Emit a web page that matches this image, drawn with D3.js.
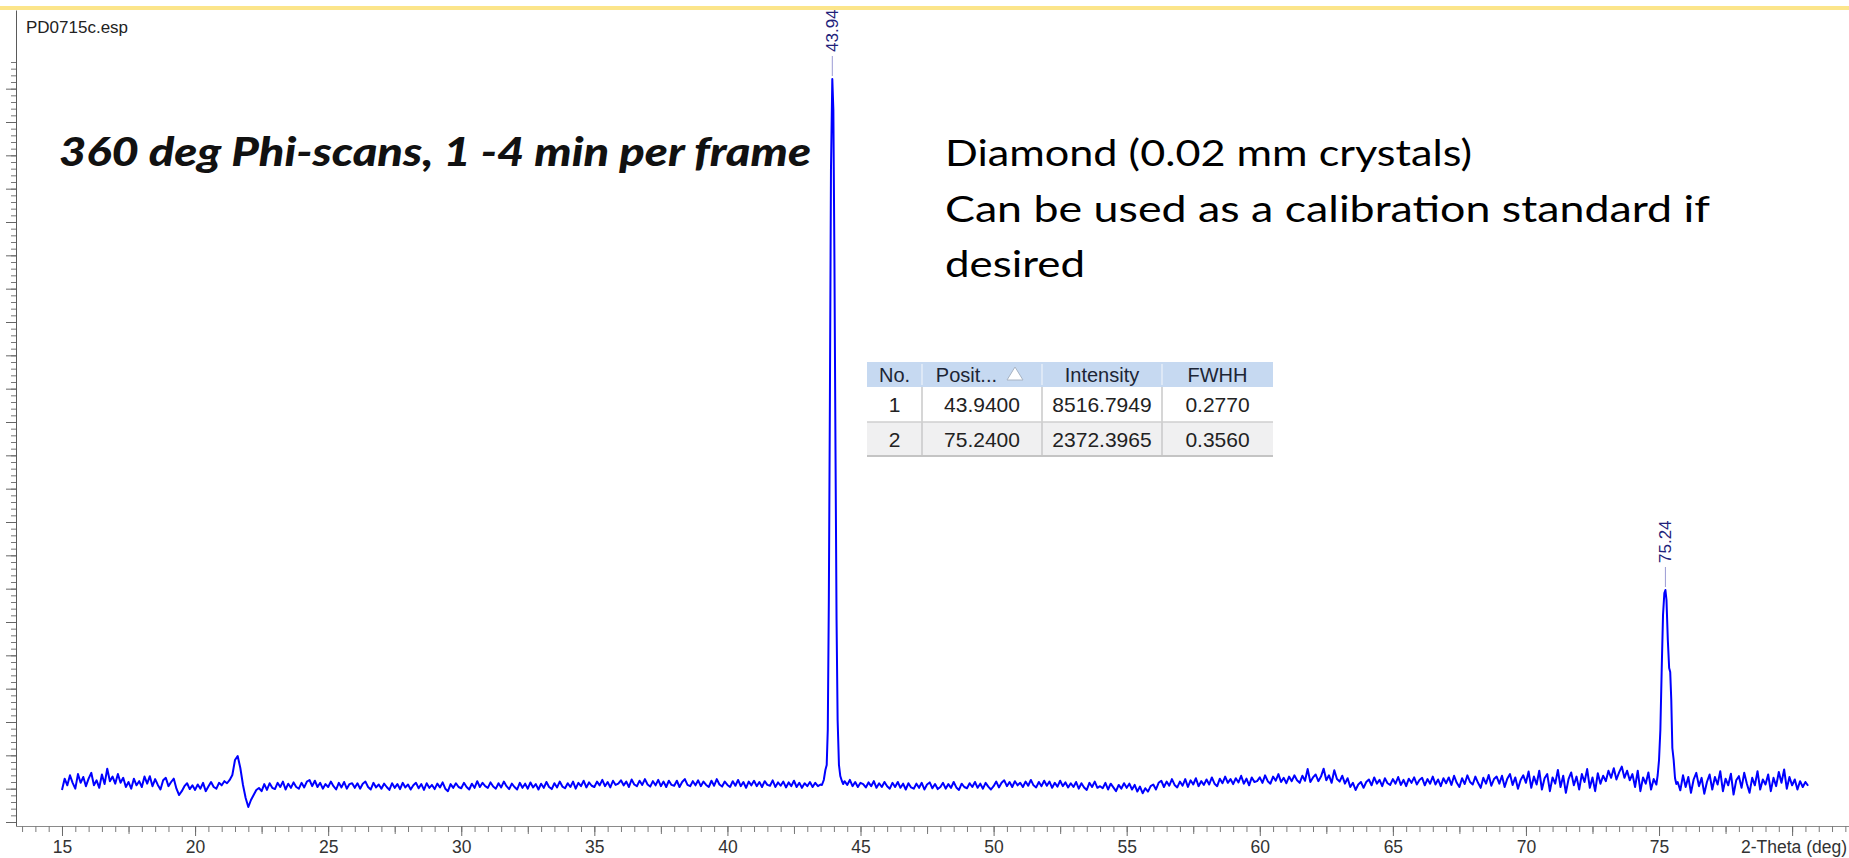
<!DOCTYPE html>
<html><head><meta charset="utf-8">
<script src="https://cdn.jsdelivr.net/npm/d3@7"></script>
<style>html,body{margin:0;padding:0;background:#fff;overflow:hidden}</style>
</head><body><svg id="c" width="1849" height="858"></svg>
<script>
// ---------------- DATA ----------------
const fileName = "PD0715c.esp";
const noteLeft = "360 deg Phi-scans, 1 -4 min per frame";
const noteRight = ["Diamond (0.02 mm crystals)", "Can be used as a calibration standard if", "desired"];
const xAxisTitle = "2-Theta (deg)";
const xMajorTicks = [15, 20, 25, 30, 35, 40, 45, 50, 55, 60, 65, 70, 75, 80];
const xLabelled = [15, 20, 25, 30, 35, 40, 45, 50, 55, 60, 65, 70, 75];

// background scan segments (counts), step 0.1 deg
const scanStep = 0.1;
const segAStart = 15.0;
const segA = [
384,520,440,560,470,400,575,470,540,430,
520,590,440,500,410,570,455,640,490,545,
460,575,470,530,420,480,400,520,440,490,
420,545,460,550,430,515,445,390,500,530,
430,480,520,400,324,370,430,465,395,440,
385,450,400,470,370,425,480,420,400,470,
440,490,465,505,564,744,792,648,444,288,
180,264,324,384,408,370,455,385,465,410,
395,470,420,485,390,460,410,475,420,400,
470,415,485,504,430,495,420,470,400,455,
420,485,430,390,470,415,480,400,455,465,
410,465,400,460,485,420,390,470,415,450,
400,460,420,385,465,410,455,395,470,415,
450,390,440,470,405,455,385,465,410,445,
395,460,415,475,400,370,455,410,465,420,
405,470,420,390,460,410,490,420,470,430,
410,475,425,400,465,415,485,430,395,460,
420,390,470,410,460,400,475,415,455,390,
460,410,480,420,395,465,415,485,425,405,
465,420,485,400,470,430,495,415,475,435,
420,485,440,505,430,480,415,495,445,460,
500,440,485,420,510,450,430,495,445,515,
450,425,490,440,505,430,485,420,495,445,
435,495,420,480,515,445,430,490,440,500,
430,485,445,420,495,435,515,450,425,485,
445,420,490,435,505,430,480,410,485,440,
495,430,480,420,490,445,435,500,420,475,
435,485,415,475,430,495,420,470,410,465,
430,480,420,470,430,450
];
const segBStart = 44.4;
const segB = [
490,445,505,430,480,420,
470,455,415,475,430,490,410,465,420,480,
430,400,470,420,480,410,460,390,465,415,
400,460,410,470,390,450,475,405,455,395,
420,470,400,455,410,480,415,385,460,420,
405,465,420,480,410,460,400,470,425,390,
430,485,415,470,500,430,480,420,490,440,
470,420,485,435,505,440,415,480,430,495,
435,485,410,470,425,495,430,475,415,465,
420,480,400,465,415,385,470,420,485,410,
430,405,470,390,460,415,370,445,400,465,
410,460,390,445,365,425,345,405,365,430,
450,390,470,495,420,485,435,515,445,415,
485,435,515,420,500,450,525,430,490,445,
510,450,535,460,430,520,465,545,470,515,
455,525,475,555,460,520,440,535,480,490,
535,470,560,490,460,545,495,575,480,530,
465,545,490,560,500,470,555,495,635,480,
535,570,490,545,640,500,560,470,620,515,
485,555,460,525,420,470,384,450,480,410,
480,510,440,535,460,505,430,525,465,445,
515,460,540,445,505,430,520,470,535,450,
505,530,440,515,460,545,450,510,430,525,
465,535,445,555,470,420,525,455,560,480,
450,545,470,410,530,460,565,435,515,545,
460,555,420,520,575,445,535,400,505,560,
470,605,410,545,450,615,390,525,575,370,
535,460,625,420,555,350,515,595,440,545,
390,575,480,635,410,535,370,585,460,555,
490,615,530,645,510,595,665,530,615,500,
575,420,615,370,535,460,595,390,515,450
];
const segCStart = 75.7;
const segC = [
480,380,560,
420,540,350,510,590,430,530,340,480,570,
390,540,450,610,370,520,440,580,330,500,
550,410,590,460,350,530,440,610,390,510,
450,570,370,530,430,600,470,630,400,540,
440,510,390,490,420,480,435
];
// diffraction peaks, finer sampling
const peak1Theta = [43.55,43.62,43.68,43.73,43.77,43.81,43.85,43.89,43.94,43.98,44.02,44.06,44.10,44.14,44.19,44.24,44.30,44.35];
const peak1Counts = [444,504,624,684,1104,2664,5064,7824,8916,8544,6744,4464,2424,1224,684,552,492,456];
const peak2Theta = [74.95,75.00,75.05,75.10,75.15,75.20,75.24,75.28,75.33,75.38,75.42,75.46,75.50,75.55,75.60,75.65];
const peak2Counts = [564,744,1104,1824,2484,2748,2784,2664,2184,1848,1800,1464,888,744,528,456];

// peak table
const tableHeaders = ["No.", "Posit...", "Intensity", "FWHH"];
const tableNo = [1, 2];
const tablePos = [43.94, 75.24];
const tableInt = [8516.7949, 2372.3965];
const tableFwhh = [0.277, 0.356];

// ---------------- BUILD SERIES ----------------
const series = [];
segA.forEach((c, i) => series.push({t: segAStart + i * scanStep, c}));
peak1Theta.forEach((t, i) => series.push({t, c: peak1Counts[i]}));
segB.forEach((c, i) => series.push({t: segBStart + i * scanStep, c}));
peak2Theta.forEach((t, i) => series.push({t, c: peak2Counts[i]}));
segC.forEach((c, i) => series.push({t: segCStart + i * scanStep, c}));
series.sort((a, b) => a.t - b.t);

// ---------------- DRAW ----------------
const svg = d3.select("#c");
const AX = "Liberation Sans, Arial, sans-serif";

const x = d3.scaleLinear().domain([13.272, 82.137]).range([16, 1849]);
const y = d3.scaleLinear().domain([-48, 9744]).range([826, 10]);

// top yellow band
svg.append("rect").attr("x", 0).attr("y", 6).attr("width", 1849).attr("height", 4).attr("fill", "#fce58a");

// X axis
const gx = svg.append("g").attr("transform", "translate(0,826)");
const minorX = d3.range(13.5, 82.01, 0.5);
const medX = d3.range(17.5, 82, 5);
gx.append("g").call(d3.axisBottom(x).tickValues(minorX).tickSize(6).tickSizeOuter(0).tickFormat(""))
  .call(g => g.select(".domain").attr("stroke", "#8a8a8a"))
  .call(g => g.selectAll(".tick line").attr("stroke", "#7a7a7a"));
gx.append("g").call(d3.axisBottom(x).tickValues(medX).tickSize(8).tickSizeOuter(0).tickFormat(""))
  .call(g => g.select(".domain").remove())
  .call(g => g.selectAll(".tick line").attr("stroke", "#7a7a7a"));
gx.append("g").call(d3.axisBottom(x).tickValues(xMajorTicks).tickSize(10).tickSizeOuter(0).tickPadding(5)
    .tickFormat(d => xLabelled.includes(d) ? d : ""))
  .call(g => g.select(".domain").remove())
  .call(g => g.selectAll(".tick line").attr("stroke", "#6a6a6a"))
  .call(g => g.selectAll("text").attr("font-family", AX).attr("font-size", 17.5).attr("fill", "#333"));
svg.append("text").attr("x", 1847).attr("y", 853).attr("text-anchor", "end")
  .attr("font-family", AX).attr("font-size", 17.5).attr("fill", "#333").text(xAxisTitle);

// Y axis
const gy = svg.append("g").attr("transform", "translate(16,0)");
gy.append("g").call(d3.axisLeft(y).tickValues(d3.range(0, 9121, 80)).tickSize(5).tickSizeOuter(0).tickFormat(""))
  .call(g => g.select(".domain").attr("stroke", "#5a5a5a"))
  .call(g => g.selectAll(".tick line").attr("stroke", "#777"));
gy.append("g").call(d3.axisLeft(y).tickValues(d3.range(0, 8801, 400)).tickSize(10).tickSizeOuter(0).tickFormat(""))
  .call(g => g.select(".domain").remove())
  .call(g => g.selectAll(".tick line").attr("stroke", "#666"));

// file name
svg.append("text").attr("x", 26).attr("y", 33).attr("font-family", AX).attr("font-size", 17)
  .attr("fill", "#222").text(fileName);

// scan line
svg.append("path").datum(series)
  .attr("d", d3.line().x(d => x(d.t)).y(d => y(d.c)))
  .attr("fill", "none").attr("stroke", "#0000ff").attr("stroke-width", 2)
  .attr("stroke-linejoin", "round");

// peak labels
tablePos.forEach(p => {
  const top = d3.max(series.filter(d => Math.abs(d.t - p) < 0.2), d => d.c);
  const yt = y(top), xp = x(p);
  svg.append("line").attr("x1", xp).attr("x2", xp).attr("y1", yt - 23).attr("y2", yt - 3)
    .attr("stroke", "#9a9ad4").attr("stroke-width", 1);
  svg.append("text").attr("transform", `translate(${xp + 6},${yt - 27}) rotate(-90)`)
    .attr("font-family", AX).attr("font-size", 17).attr("fill", "#22227a").text(p.toFixed(2));
});

// notes
svg.append("text").attr("x", 59).attr("y", 166).attr("font-family", "Lato, sans-serif")
  .attr("font-size", 39).attr("font-weight", "900").attr("font-style", "italic").attr("fill", "#111")
  .attr("textLength", 752).attr("lengthAdjust", "spacingAndGlyphs").text(noteLeft);
const rightW = [527, 765, 140];
noteRight.forEach((t, i) => {
  svg.append("text").attr("x", 945).attr("y", 166 + i * 55.5).attr("font-family", "Lato, sans-serif")
    .attr("font-size", 37).attr("fill", "#000")
    .attr("textLength", rightW[i]).attr("lengthAdjust", "spacingAndGlyphs").text(t);
});

// table
const colX = [867, 922, 1042, 1162, 1273];
const rowY = [362, 387, 422, 456];
const tg = svg.append("g");
tg.append("rect").attr("x", colX[0]).attr("y", rowY[0]).attr("width", colX[4] - colX[0]).attr("height", rowY[1] - rowY[0]).attr("fill", "#c6d9f1");
tg.append("rect").attr("x", colX[0]).attr("y", rowY[1]).attr("width", colX[4] - colX[0]).attr("height", rowY[2] - rowY[1]).attr("fill", "#ffffff");
tg.append("rect").attr("x", colX[0]).attr("y", rowY[2]).attr("width", colX[4] - colX[0]).attr("height", rowY[3] - rowY[2]).attr("fill", "#f0f0f1");
colX.slice(1, 4).forEach(cx => tg.append("line").attr("x1", cx).attr("x2", cx).attr("y1", rowY[0] + 2).attr("y2", rowY[1] - 2).attr("stroke", "#e4ecf7").attr("stroke-width", 1.5));
colX.slice(1, 4).forEach(cx => tg.append("line").attr("x1", cx).attr("x2", cx).attr("y1", rowY[1]).attr("y2", rowY[3]).attr("stroke", "#c8c8c8").attr("stroke-width", 1.5));
tg.append("line").attr("x1", colX[0]).attr("x2", colX[4]).attr("y1", rowY[2]).attr("y2", rowY[2]).attr("stroke", "#cfcfcf").attr("stroke-width", 1.5);
tg.append("line").attr("x1", colX[0]).attr("x2", colX[4]).attr("y1", rowY[3]).attr("y2", rowY[3]).attr("stroke", "#c4c4c4").attr("stroke-width", 2);
const cc = i => (colX[i] + colX[i + 1]) / 2;
tableHeaders.forEach((h, i) => {
  const tx = i === 1 ? 997 : cc(i);
  tg.append("text").attr("x", tx).attr("y", (rowY[0] + rowY[1]) / 2 + 7)
    .attr("text-anchor", i === 1 ? "end" : "middle").attr("font-family", AX).attr("font-size", 20)
    .attr("fill", "#1c2535").text(h);
});
tg.append("path").attr("d", "M1007,380L1015,367L1023,380Z").attr("fill", "#fff").attr("stroke", "#a8b4c4").attr("stroke-width", 1);
tableNo.forEach((n, r) => {
  const vals = [String(n), tablePos[r].toFixed(4), tableInt[r].toFixed(4), tableFwhh[r].toFixed(4)];
  vals.forEach((v, i) => {
    tg.append("text").attr("x", cc(i)).attr("y", (rowY[r + 1] + rowY[r + 2]) / 2 + 7.5)
      .attr("text-anchor", "middle").attr("font-family", AX).attr("font-size", 21)
      .attr("fill", "#222").text(v);
  });
});
</script>
</body></html>
